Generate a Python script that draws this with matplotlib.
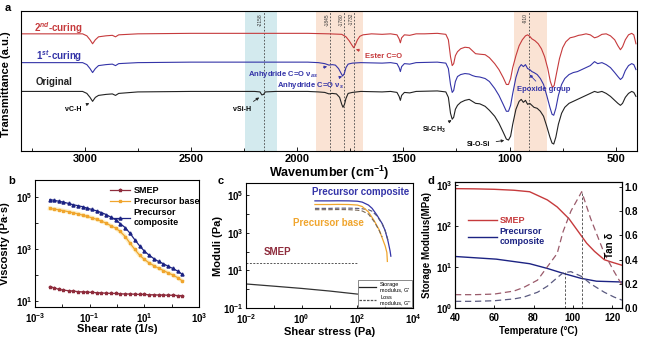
import math
import matplotlib.pyplot as plt
from matplotlib.ticker import FixedLocator, NullFormatter

plt.rcParams['font.family'] = ['Liberation Sans', 'DejaVu Sans']
plt.rcParams['font.weight'] = 'bold'
plt.rcParams['axes.labelweight'] = 'bold'
plt.rcParams['mathtext.fontset'] = 'custom'
plt.rcParams['mathtext.rm'] = 'Liberation Sans:bold'
plt.rcParams['mathtext.bf'] = 'Liberation Sans:bold'
plt.rcParams['mathtext.it'] = 'Liberation Sans:bold:italic'
plt.rcParams['axes.linewidth'] = 0.8
plt.rcParams['xtick.direction'] = 'in'
plt.rcParams['ytick.direction'] = 'in'

# ---------------- panel a: FTIR ----------------
red_wn = [3300, 3100, 3010, 2990, 2975, 2963, 2950, 2935, 2900, 2870, 2855, 2840, 2750, 2500, 2200, 1950,
          1850, 1790, 1770, 1755, 1740, 1734, 1726, 1716, 1705, 1690, 1650, 1600, 1560, 1530, 1520, 1514,
          1508, 1495, 1470, 1440, 1400, 1340, 1300, 1288, 1278, 1270, 1263, 1255, 1245, 1230, 1210, 1190,
          1175, 1160, 1140, 1115, 1095, 1070, 1050, 1030, 1015, 1005, 995, 985, 970, 955, 940, 925, 915,
          905, 895, 880, 865, 850, 835, 820, 808, 798, 790, 780, 765, 750, 735, 715, 695, 675, 660, 640,
          620, 600, 585, 565, 545, 525, 505, 490, 478, 468, 455, 440, 425, 415, 405]
red_t = [118, 118, 118, 116, 112, 108, 112, 115, 116, 116.5, 115, 117, 118, 118.5, 118.5, 118.5,
         118, 117.5, 115, 111, 106, 104, 107, 112, 115.5, 117, 118, 117.5, 118, 117, 113, 109,
         114, 117, 116.5, 118, 118, 118.5, 117.5, 112, 95, 86, 88, 96, 100, 103, 104.5, 104,
         101, 98, 97.5, 97, 94, 88, 82, 74, 67, 67, 73, 84, 96, 106, 112, 116, 117,
         115.5, 113, 111, 108, 103, 95, 83, 70, 64, 66, 77, 93, 104, 110, 114, 115, 116.5, 117, 118,
         117, 114, 115, 117.5, 118, 116, 112, 106, 102, 105, 112, 117, 118.5, 117, 108]

blue_wn = [3300, 3100, 3010, 2990, 2975, 2963, 2950, 2935, 2900, 2870, 2855, 2840, 2750, 2500, 2200, 1950,
           1900, 1870, 1850, 1835, 1820, 1805, 1795, 1786, 1778, 1770, 1760, 1740, 1700, 1600, 1560, 1530,
           1520, 1514, 1508, 1495, 1470, 1440, 1340, 1300, 1288, 1278, 1270, 1263, 1255, 1245, 1230, 1210,
           1190, 1175, 1160, 1140, 1115, 1095, 1070, 1050, 1030, 1015, 1005, 995, 985, 970, 955, 945, 935,
           925, 915, 905, 895, 885, 870, 855, 840, 825, 810, 800, 792, 782, 770, 755, 740, 720, 700, 680,
           660, 640, 620, 600, 585, 565, 545, 525, 505, 490, 478, 468, 455, 440, 425, 415, 405]
blue_t = [89, 89, 89, 87, 83, 79, 83, 86, 87, 87.5, 86, 88, 89, 89.5, 89.5, 89.5,
          89, 88, 86.5, 87, 86.5, 83, 79, 75.5, 78, 84, 87.5, 88.5, 89, 88.5, 89, 88,
          84, 80, 85, 88, 87.5, 89, 89.5, 88.5, 83, 67, 59, 61, 70, 75, 77, 78,
          77.5, 76, 75, 74.5, 73, 70, 63, 56, 47, 40, 40, 46, 58, 74, 84, 87, 85,
          87, 83, 82, 80, 79, 77, 73, 67, 56, 44, 37, 36, 43, 56, 67, 73, 77, 79, 80,
          82, 84, 86, 90, 88, 89, 87, 84, 79, 75, 72, 74, 81, 86, 88, 87, 82]

black_wn = [3300, 3100, 3010, 2990, 2975, 2963, 2950, 2935, 2900, 2870, 2855, 2840, 2750, 2500, 2200, 2175,
            2166, 2158, 2150, 2100, 1950, 1900, 1870, 1850, 1835, 1815, 1800, 1790, 1784, 1777, 1770, 1760,
            1740, 1700, 1600, 1560, 1530, 1520, 1514, 1508, 1495, 1470, 1440, 1340, 1300, 1288, 1278, 1270,
            1263, 1255, 1245, 1230, 1210, 1190, 1175, 1160, 1140, 1115, 1095, 1070, 1050, 1030, 1015, 1005,
            995, 985, 970, 955, 945, 935, 925, 915, 905, 895, 885, 870, 855, 840, 825, 810, 800, 792, 782,
            770, 755, 740, 720, 700, 680, 660, 640, 620, 600, 585, 565, 545, 525, 505, 490, 478, 468, 455,
            440, 425, 415, 405]
black_t = [60, 60, 60, 58, 54, 50, 54, 56, 57, 57.5, 56, 58, 59.5, 60, 60, 59.5,
           56.5, 57, 59.5, 60, 60, 59.5, 59, 57.5, 58, 57.5, 54, 47, 44, 47, 53, 58,
           59, 60, 59.5, 60, 59, 55, 51, 56, 59, 58.5, 60, 60.5, 59.5, 54, 38, 32,
           34, 42, 46, 49, 51, 52, 50, 48, 47.5, 45, 41, 35, 28, 19, 12, 11,
           15, 27, 42, 50, 52, 49, 51, 47, 48, 46, 44, 43, 40, 35, 25, 14, 8, 7, 14,
           27, 38, 44, 48, 50, 52, 54, 56, 58, 60, 59, 60, 58, 55, 51, 48, 46, 48, 54,
           58, 60, 59, 55]

peak_lines = [2158, 1845, 1780, 1732, 910]
blue_band = (2245, 2095)
orange_bands = [(1912, 1692), (979, 825)]

# ---------------- panel b: viscosity ----------------
shear_rate = [0.0035, 0.005, 0.0075, 0.011, 0.017, 0.025, 0.037, 0.055, 0.08, 0.12, 0.18, 0.27, 0.4, 0.6,
              0.9, 1.3, 2.0, 3.0, 4.5, 6.7, 10, 15, 22, 33, 50, 75, 110, 165, 240]
visc_composite = [79000, 74000, 68000, 63000, 56000, 50000, 46000, 42000, 37000, 33000, 29000, 25000, 21000,
                  16600, 13200, 9500, 6600, 4000, 2240, 1320, 830, 575, 430, 330, 270, 215, 178, 141, 107]
visc_base = [36000, 34000, 32000, 29500, 27000, 24500, 22400, 20000, 17800, 15800, 13800, 11700, 9800, 7800,
             6300, 4700, 3000, 1660, 955, 575, 400, 290, 230, 182, 148, 120, 100, 79, 60]
visc_smep = [36, 32, 28, 26, 25, 24, 23, 22.4, 21.9, 21.4, 20.9, 20.4, 20, 19.5, 19.5, 19, 18.6, 18.6, 18.2,
             17.8, 17.8, 17.4, 17.4, 17, 17, 16.6, 16.6, 16.2, 16.2]

# ---------------- panel c: moduli vs shear stress ----------------
comp_stress_gp = [3, 5, 10, 20, 50, 100, 150, 250, 340, 500, 780, 1000, 1260, 1500, 1600]
comp_gp = [50000, 50000, 50000, 50500, 50000, 48000, 43000, 30000, 20000, 9000, 3100, 1300, 370, 110, 57]
comp_stress_gpp = [3, 5, 10, 20, 50, 100, 150, 250, 340, 500, 780, 1000, 1260]
comp_gpp = [20000, 20000, 20000, 20500, 20500, 20000, 19000, 17000, 14000, 8000, 3000, 1300, 420]
base_stress_gp = [3, 5, 10, 20, 50, 100, 150, 250, 400, 600, 780, 1000, 1150, 1200]
base_gp = [32000, 32000, 32000, 32500, 32000, 30000, 25000, 13000, 4500, 1500, 540, 200, 90, 30]
base_stress_gpp = [3, 5, 10, 20, 50, 100, 150, 250, 400, 600, 780]
base_gpp = [17000, 17000, 17000, 17300, 17000, 16000, 14500, 10000, 4000, 1400, 600]
smep_stress = [0.01, 0.1, 1, 10, 100]
smep_gp = [1.9, 1.45, 1.1, 0.8, 0.55]
smep_gpp = [24, 24, 24, 24, 24]

# ---------------- panel d: DMA ----------------
temp_smep = [40, 50, 60, 70, 78, 87, 92, 98, 103, 107, 111, 116, 120, 125]
mod_smep = [810, 800, 780, 740, 680, 430, 290, 150, 70, 38, 24, 15, 13, 11]
temp_comp = [40, 61, 78, 87, 95, 104, 112, 125]
mod_comp = [18, 15.5, 12, 9.2, 7.0, 5.3, 4.5, 4.3]
temp_tan = [40, 50, 60, 70, 75, 82, 87, 92, 95, 99, 104.5, 109, 116, 121, 125]
tan_smep = [0.11, 0.11, 0.115, 0.14, 0.17, 0.23, 0.34, 0.45, 0.63, 0.80, 0.96, 0.74, 0.45, 0.30, 0.19]
tan_comp = [0.055, 0.055, 0.06, 0.075, 0.09, 0.13, 0.18, 0.25, 0.29, 0.30, 0.26, 0.20, 0.13, 0.09, 0.065]

RED = '#c63a3c'
BLUE = '#3434a8'
NAVY = '#1c2383'
ORANGE = '#f0a52d'
MAROON = '#8f2d3d'

fig = plt.figure(figsize=(6.5, 3.38), dpi=100)
W, H = 650, 338


def rect(l, t, r, b):
    return [l / W, 1 - b / H, (r - l) / W, (b - t) / H]


# ---- a ----
ax = fig.add_axes(rect(21, 11, 637, 151))
ax.axvspan(*blue_band, color='#d3eaee', lw=0)
for lo, hi in orange_bands:
    ax.axvspan(lo, hi, color='#fae3d4', lw=0)
for wn in peak_lines:
    ax.axvline(wn, color='#444444', lw=0.6, ls=(0, (2, 2)))
    ax.text(wn + 14, 139, '-%d' % wn, rotation=90, fontsize=3.5, ha='center', va='top',
            color='#333333', fontweight='normal')
ax.plot(red_wn, red_t, color=RED, lw=0.8)
ax.plot(blue_wn, blue_t, color=BLUE, lw=0.8)
ax.plot(black_wn, black_t, color='#222222', lw=0.8)
ax.set_xlim(3300, 400)
ax.set_ylim(0, 141)
ax.set_yticks([])
ax.set_xticks([3000, 2500, 2000, 1500, 1000, 500])
ax.xaxis.set_minor_locator(FixedLocator([3250, 2750, 2250, 1750, 1250, 750]))
ax.tick_params(axis='x', labelsize=8, pad=2, length=3, width=0.6)
ax.tick_params(axis='x', which='minor', length=2, width=0.6)
ax.set_xlabel('Wavenumber (cm$^{-1}$)', fontsize=9)
ax.xaxis.set_label_coords(0.5, -0.09)
ax.set_ylabel('Transmittance (a.u.)', fontsize=8)
ax.yaxis.set_label_coords(-0.016, 0.48)

ax.text(3240, 124, '2$^{nd}$-curing', color=RED, fontsize=7, va='center')
ax.text(3230, 96, '1$^{st}$-curing', color=BLUE, fontsize=7, va='center')
ax.text(3230, 69, 'Original', color='#222222', fontsize=7, va='center')

arrow = dict(arrowstyle='-|>', lw=0.6, mutation_scale=4)
ax.annotate('νC-H', xy=(2966, 49), xytext=(3052, 42), fontsize=5, ha='center', va='center',
            arrowprops=dict(color='#222222', **arrow))
ax.annotate('νSi-H', xy=(2168, 55.5), xytext=(2259, 42), fontsize=5, ha='center', va='center',
            arrowprops=dict(color='#222222', **arrow))
ax.annotate('Anhydride C=O ν$_{as}$', xy=(1846, 85.5), xytext=(2067, 77), fontsize=5.5, color=BLUE,
            ha='center', va='center', arrowprops=dict(color=BLUE, **arrow))
ax.annotate('Anhydride C=O ν$_{s}$', xy=(1788, 75), xytext=(1936, 66), fontsize=5.5, color=BLUE,
            ha='center', va='center', arrowprops=dict(color=BLUE, **arrow))
ax.annotate('Ester C=O', xy=(1736, 103), xytext=(1594, 95), fontsize=5.5, color=RED,
            ha='center', va='center', arrowprops=dict(color=RED, **arrow))
ax.annotate('Si-CH$_3$', xy=(1273, 31), xytext=(1355, 21), fontsize=5, ha='center', va='center',
            arrowprops=dict(color='#222222', **arrow))
ax.annotate('Si-O-Si', xy=(1012, 11), xytext=(1144, 7), fontsize=5, ha='center', va='center',
            arrowprops=dict(color='#222222', **arrow))
ax.annotate('Epoxide group', xy=(915, 79), xytext=(839, 62), fontsize=5.5, color=BLUE,
            ha='center', va='center', arrowprops=dict(color=BLUE, **arrow))
fig.text(5 / W, 1 - 8 / H, 'a', fontsize=8, va='center')


def log_ticks(axis, major, minor):
    axis.set_major_locator(FixedLocator(major))
    axis.set_minor_locator(FixedLocator(minor))
    axis.set_minor_formatter(NullFormatter())
    axis.set_major_formatter(plt.FuncFormatter(
        lambda v, p: '$\\mathbf{10^{%d}}$' % round(math.log10(v))))


# ---- b ----
bx = fig.add_axes(rect(35, 180, 199, 307))
bx.set_xscale('log')
bx.set_yscale('log')
bx.plot(shear_rate, visc_smep, color=MAROON, lw=0.9, marker='*', ms=2.5, label='SMEP')
bx.plot(shear_rate, visc_base, color='#fbe39a', lw=3, alpha=0.6)
bx.plot(shear_rate, visc_base, color=ORANGE, lw=0.9, marker='s', ms=2, label='Precursor base')
bx.plot(shear_rate, visc_composite, color=NAVY, lw=0.9, marker='^', ms=2.2, label='Precursor\ncomposite')
bx.set_xlim(1e-3, 1e3)
bx.set_ylim(10 ** 0.77, 10 ** 5.65)
log_ticks(bx.xaxis, [1e-3, 1e-1, 1e1, 1e3], [1e-2, 1e0, 1e2])
log_ticks(bx.yaxis, [1e1, 1e3, 1e5], [1e2, 1e4])
bx.tick_params(which='both', labelsize=7, pad=2, length=2.5, width=0.6)
bx.tick_params(axis='x', pad=3)
bx.set_xlabel('Shear rate (1/s)', fontsize=8)
bx.xaxis.set_label_coords(0.5, -0.13)
bx.set_ylabel('Viscosity (Pa·s)', fontsize=8)
bx.yaxis.set_label_coords(-0.15, 0.5)
bx.legend(loc='upper right', fontsize=6.5, frameon=False, handlelength=2.2, borderpad=0.2,
          labelspacing=0.2, handletextpad=0.4, bbox_to_anchor=(1.04, 1.0))
fig.text(8 / W, 1 - 181 / H, 'b', fontsize=8, va='center')

# ---- c ----
cx = fig.add_axes(rect(246, 183, 413, 308))
cx.set_xscale('log')
cx.set_yscale('log')
cx.plot(comp_stress_gp, comp_gp, color=BLUE, lw=0.9)
cx.plot(comp_stress_gpp, comp_gpp, color='#555577', lw=0.8, ls=(0, (4, 2)))
cx.plot(base_stress_gp, base_gp, color=ORANGE, lw=0.9)
cx.plot(base_stress_gpp, base_gpp, color='#776655', lw=0.8, ls=(0, (4, 2)))
cx.plot(smep_stress, smep_gp, color='#333333', lw=0.9)
cx.plot(smep_stress, smep_gpp, color='#555555', lw=0.7, ls=(0, (2, 1.5)))
cx.set_xlim(1e-2, 1e4)
cx.set_ylim(0.1, 10 ** 5.65)
log_ticks(cx.xaxis, [1e-2, 1e0, 1e2, 1e4], [1e-1, 1e1, 1e3])
log_ticks(cx.yaxis, [1e-1, 1e1, 1e3, 1e5], [1e0, 1e2, 1e4])
cx.tick_params(which='both', labelsize=7, pad=2, length=2.5, width=0.6)
cx.tick_params(axis='x', pad=3)
cx.set_xlabel('Shear stress (Pa)', fontsize=8)
cx.xaxis.set_label_coords(0.5, -0.15)
cx.set_ylabel('Moduli (Pa)', fontsize=8)
cx.yaxis.set_label_coords(-0.14, 0.5)
cx.text(126, 1.45e5, 'Precursor composite', color=BLUE, fontsize=7, ha='center', va='center')
cx.text(8.9, 3.5e3, 'Precursor base', color=ORANGE, fontsize=7, ha='center', va='center')
cx.text(0.14, 93, 'SMEP', color=MAROON, fontsize=7, ha='center', va='center')
hl = [plt.Line2D([], [], color='#222222', lw=0.9),
      plt.Line2D([], [], color='#555555', lw=0.9, ls=(0, (2, 1)))]
lg = cx.legend(hl, ["Storage\nmodulus, G'", "Loss\nmodulus, G''"], loc='lower right',
               frameon=True, fancybox=False, edgecolor='#333333', borderpad=0.3, handlelength=3,
               labelspacing=0.4, prop={'size': 4, 'weight': 'normal'}, borderaxespad=0.1)
lg.get_frame().set_linewidth(0.5)
fig.text(218 / W, 1 - 181 / H, 'c', fontsize=8, va='center')

# ---- d ----
dx = fig.add_axes(rect(455, 182, 622, 308))
dx.set_yscale('log')
dx.plot(temp_smep, mod_smep, color=RED, lw=1.0, label='SMEP')
dx.plot(temp_comp, mod_comp, color=NAVY, lw=1.0, label='Precursor\ncomposite')
dx.set_xlim(40, 125)
dx.set_ylim(1, 10 ** 3.07)
dx.set_xticks([40, 60, 80, 100, 120])
log_ticks(dx.yaxis, [1e0, 1e1, 1e2, 1e3], [])
dx.tick_params(which='both', labelsize=7, pad=2, length=2.5, width=0.6)
dx.tick_params(axis='x', pad=3.5)
dx.set_xlabel('Temperature (°C)', fontsize=7)
dx.xaxis.set_label_coords(0.5, -0.14)
dx.set_ylabel('Storage Modulus(MPa)', fontsize=7)
dx.yaxis.set_label_coords(-0.14, 0.5)
lg = dx.legend(loc='upper left', fontsize=6.5, frameon=False, handlelength=3.2, borderpad=0.2,
               labelspacing=0.2, handletextpad=0.3, bbox_to_anchor=(0.04, 0.78))
for t, c in zip(lg.get_texts(), [RED, NAVY]):
    t.set_color(c)
tx = dx.twinx()
tx.plot(temp_tan, tan_smep, color='#9a5a6a', lw=0.9, ls=(0, (5, 3)))
tx.plot(temp_tan, tan_comp, color='#5a5a80', lw=0.9, ls=(0, (5, 3)))
tx.plot([104.5, 104.5], [0, 0.96], color='#444444', lw=0.6, ls=(0, (3, 2)))
tx.plot([96, 96], [0, 0.30], color='#444444', lw=0.6, ls=(0, (3, 2)))
tx.set_ylim(0, 1.04)
tx.set_yticks([0, 0.2, 0.4, 0.6, 0.8, 1.0])
tx.yaxis.set_major_formatter(plt.FuncFormatter(lambda v, p: '%.1f' % v))
tx.tick_params(labelsize=7, pad=2, length=2.5, width=0.6, direction='in')
tx.text(0.93, 0.5, 'Tan δ', rotation=90, fontsize=7, transform=tx.transAxes, ha='center', va='center')
fig.text(428 / W, 1 - 181 / H, 'd', fontsize=8, va='center')

fig.savefig('out.png', dpi=100)
